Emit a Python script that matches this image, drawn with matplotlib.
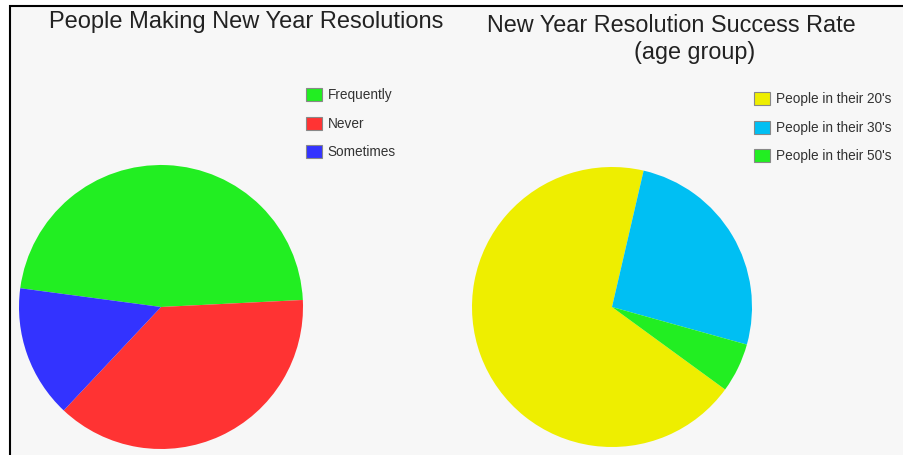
import matplotlib.pyplot as plt
from matplotlib.patches import Rectangle

plt.rcParams['font.family'] = ['Liberation Sans', 'DejaVu Sans']

W, H = 904, 455

# left chart
freq_labels = ['Frequently', 'Never', 'Sometimes']
freq_values = [47.1, 37.8, 15.1]
freq_colors = ['#22ee22', '#ff3333', '#3333ff']

# right chart
age_labels = ["People in their 20's", "People in their 30's", "People in their 50's"]
age_values = [68.6, 25.7, 5.7]
age_colors = ['#eeee00', '#00bff3', '#22ee22']


def px_axes(fig, cx, cy, r):
    # square axes around a pie centre given in pixels from top-left
    return fig.add_axes([(cx - r) / W, (H - cy - r) / H, 2 * r / W, 2 * r / H])


def draw_pie(ax, values, colors, start):
    wedges, _ = ax.pie(values, colors=colors, startangle=start, counterclock=False,
                       radius=1, wedgeprops={'linewidth': 0})
    ax.set_xlim(-1, 1)
    ax.set_ylim(-1, 1)
    ax.set_aspect('auto')
    ax.axis('off')
    return wedges


def add_legend(fig, wedges, labels, x, y):
    leg = fig.legend(wedges, labels, loc='upper left', bbox_to_anchor=(x / W, 1 - y / H),
                     frameon=False, fontsize=9.8, borderpad=0, borderaxespad=0,
                     handlelength=1.18, handleheight=1.08, handletextpad=0.4,
                     labelspacing=1.07)
    for h in leg.legend_handles:
        h.set_edgecolor('#888888')
        h.set_linewidth(0.8)
    for t in leg.get_texts():
        t.set_color('#333333')
    return leg


fig = plt.figure(figsize=(W / 100, H / 100), dpi=100, facecolor='white')

# outer frame
fig.add_artist(Rectangle((9.5 / W, -0.05), 1.3, (H - 6.5) / H + 0.05,
                         transform=fig.transFigure, facecolor='#f7f7f7',
                         edgecolor='black', linewidth=1.5, zorder=0))

ax1 = px_axes(fig, 161, 307, 142)
w1 = draw_pie(ax1, freq_values, freq_colors, 172.4)

ax2 = px_axes(fig, 612, 307, 140)
w2 = draw_pie(ax2, age_values, age_colors, -36.1)

fig.text(246 / W, 1 - 22 / H, 'People Making New Year Resolutions',
         ha='center', va='center', fontsize=17, color='#222222')
fig.text(671 / W, 1 - 25 / H, 'New Year Resolution Success Rate',
         ha='center', va='center', fontsize=16.8, color='#222222')
fig.text(695 / W, 1 - 52 / H, '(age group)',
         ha='center', va='center', fontsize=16.8, color='#222222')

add_legend(fig, w1, freq_labels, 306, 88)
add_legend(fig, w2, age_labels, 754, 92)

fig.savefig('out.png', dpi=100)
